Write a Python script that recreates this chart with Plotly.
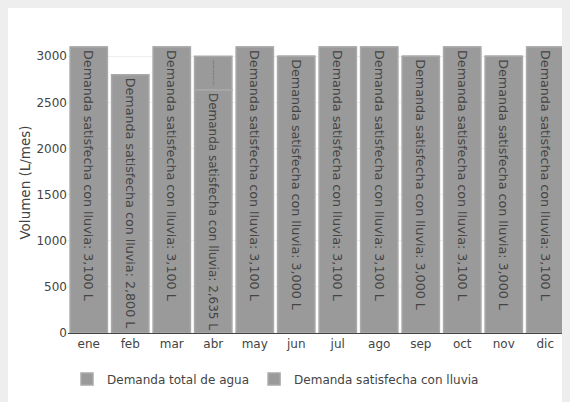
import plotly.graph_objects as go

meses = ["ene", "feb", "mar", "abr", "may", "jun", "jul", "ago", "sep", "oct", "nov", "dic"]
demanda_total = [3100, 2800, 3100, 3000, 3100, 3000, 3100, 3100, 3000, 3100, 3000, 3100]
demanda_satisfecha = [3100, 2800, 3100, 2635, 3100, 3000, 3100, 3100, 3000, 3100, 3000, 3100]

deficit = [t - s for t, s in zip(demanda_total, demanda_satisfecha)]
deficit_text = [f"Demanda total de agua: {t:,} L" if d > 0 else ""
                for t, d in zip(demanda_total, deficit)]

FONT = "Verdana, DejaVu Sans, sans-serif"
FILL = "#9a9a9a"
EDGE = "#a9a9a9"

fig = go.Figure()
fig.add_trace(go.Bar(
    name="Demanda total de agua",
    x=meses, y=deficit, base=demanda_satisfecha,
    marker=dict(color=FILL, line=dict(color=EDGE, width=1.5)),
    text=deficit_text, textposition="inside", textangle=90,
    insidetextanchor="end",
    textfont=dict(family=FONT, size=12.7, color="#444"),
    hoverinfo="skip",
))
fig.add_trace(go.Bar(
    name="Demanda satisfecha con lluvia",
    x=meses, y=demanda_satisfecha,
    marker=dict(color=FILL, line=dict(color=EDGE, width=1.5)),
    texttemplate="Demanda satisfecha con lluvia: %{y:,} L",
    textposition="inside", textangle=90, insidetextanchor="end",
    textfont=dict(family=FONT, size=12.7, color="#444"),
))

fig.update_layout(
    width=570, height=402,
    barmode="overlay", bargap=0.1,
    paper_bgcolor="white", plot_bgcolor="white",
    font=dict(family=FONT, size=12, color="#444"),
    margin=dict(l=60, r=12, t=24, b=77, autoexpand=False),
    showlegend=True,
    legend=dict(orientation="h", x=-0.002, xanchor="left", y=-0.153, yanchor="middle",
                font=dict(size=12, color="#444"), bgcolor="rgba(0,0,0,0)"),
    xaxis=dict(showline=True, linecolor="#444", linewidth=1, showgrid=False,
               tickfont=dict(size=12, color="#444")),
    yaxis=dict(title=dict(text="Volumen (L/mes)", standoff=2,
                          font=dict(size=13.5, color="#444")),
               gridcolor="#eeeeee", zeroline=False, dtick=500,
               tickfont=dict(size=12, color="#444")),
)

fig.write_html("out.html",
               post_script="document.body.style.background='#eeeeee';")
